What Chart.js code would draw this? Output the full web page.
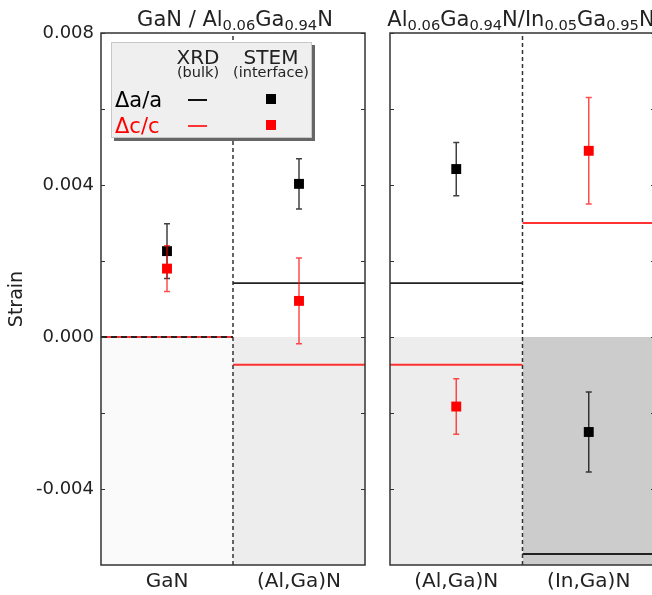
<!DOCTYPE html>
<html lang="en">
<head>
  <meta charset="UTF-8">
  <title>Strain</title>
  <script src="https://cdn.jsdelivr.net/npm/chart.js"></script>
  <style>
    body { margin: 0; background: #fff; width: 652px; height: 595px; overflow: hidden; position: relative; font-family: 'DejaVu Sans', sans-serif; color: #222; }
    canvas { position: absolute; top: 0; }
    #left { left: 0; }
    #right { left: 372px; }
    .ttl { position: absolute; top: 7px; width: 340px; text-align: center; font-size: 21px; line-height: 24px; white-space: nowrap; }
    .ttl sub { font-size: 14.7px; vertical-align: -4px; line-height: 0; }
    .legend { position: absolute; left: 111px; top: 42px; width: 201px; height: 96px; box-sizing: border-box;
              background: #efefef; border: 1px solid #c8c8c8; box-shadow: 3px 3px 0 #666; }
    .legend div, .legend span { position: absolute; white-space: nowrap; }
    .hd { font-size: 20px; line-height: 20px; text-align: center; width: 90px; }
    .sm { font-size: 14.5px; line-height: 15px; text-align: center; width: 90px; }
    .lbl { font-size: 21px; line-height: 24px; left: 3px; }
    .ln { height: 1.5px; width: 19px; left: 76px; }
    .sq { width: 10px; height: 10px; left: 154px; }
  </style>
</head>
<body>
  <canvas id="left" width="372" height="595"></canvas>
  <canvas id="right" width="290" height="595"></canvas>

  <div class="ttl" style="left:65px">GaN / Al<sub>0.06</sub>Ga<sub>0.94</sub>N</div>
  <div class="ttl" style="left:351px">Al<sub>0.06</sub>Ga<sub>0.94</sub>N/In<sub>0.05</sub>Ga<sub>0.95</sub>N</div>

  <div class="legend">
    <div class="hd" style="left:41px;top:4px">XRD</div>
    <div class="sm" style="left:41px;top:22px">(bulk)</div>
    <div class="hd" style="left:114px;top:4px">STEM</div>
    <div class="sm" style="left:114px;top:22px">(interface)</div>
    <div class="lbl" style="top:45px;color:#000">Δa/a</div>
    <span class="ln" style="top:56px;background:#111"></span>
    <span class="sq" style="top:51px;background:#000"></span>
    <div class="lbl" style="top:71px;color:#f00">Δc/c</div>
    <span class="ln" style="top:82px;background:#f33"></span>
    <span class="sq" style="top:77px;background:#f00"></span>
  </div>

  <script>
    // data (strain)
    const leftCats = ['GaN', '(Al,Ga)N'];
    const rightCats = ['(Al,Ga)N', '(In,Ga)N'];

    const stemA_left = [0.00226, 0.00403];
    const stemA_leftErr = [0.00072, 0.00066];
    const stemC_left = [0.00180, 0.00095];
    const stemC_leftErr = [0.00060, 0.00113];
    const xrdA_left = [0, 0.00142];
    const xrdC_left = [0, -0.00073];

    const stemA_right = [0.00442, -0.00250];
    const stemA_rightErr = [0.00070, 0.00105];
    const stemC_right = [-0.00183, 0.00490];
    const stemC_rightErr = [0.00073, 0.00140];
    const xrdA_right = [0.00142, -0.00571];
    const xrdC_right = [-0.00073, 0.00300];

    const yMin = -0.006, yMax = 0.008;
    const yMajor = [-0.004, 0, 0.004, 0.008];
    const yMajorLabels = ['-0.004', '0.000', '0.004', '0.008'];
    const yMinor = [-0.002, 0.002, 0.006];
    const shadeBase = 0;

    const shadeLeft = ['#fafafa', '#ededed'];
    const shadeRight = ['#ededed', '#cccccc'];

    Chart.defaults.font.family = "'DejaVu Sans', sans-serif";
    Chart.defaults.color = '#222';

    // error bars under each STEM square, frame + inward ticks on top
    const decor = {
      id: 'decor',
      beforeDatasetDraw(chart, args) {
        const ds = chart.data.datasets[args.index];
        if (!ds.errors) return;
        const x = chart.scales.x, y = chart.scales.y, c = chart.ctx;
        c.save();
        c.strokeStyle = ds.errColor;
        c.lineWidth = 1.5;
        ds.data.forEach((p, i) => {
          const px = x.getPixelForValue(p.x);
          const t = y.getPixelForValue(p.y + ds.errors[i]);
          const b = y.getPixelForValue(p.y - ds.errors[i]);
          c.beginPath();
          c.moveTo(px, t); c.lineTo(px, b);
          c.moveTo(px - 3, t); c.lineTo(px + 3, t);
          c.moveTo(px - 3, b); c.lineTo(px + 3, b);
          c.stroke();
        });
        c.restore();
      },
      afterDraw(chart) {
        const a = chart.chartArea, y = chart.scales.y, c = chart.ctx;
        c.save();
        c.strokeStyle = '#333';
        c.lineWidth = 1.5;
        c.strokeRect(a.left, a.top, a.right - a.left, a.bottom - a.top);
        c.beginPath();
        yMajor.concat(yMinor).forEach(v => {
          const py = Math.round(y.getPixelForValue(v)) + 0.5;
          c.moveTo(a.left, py); c.lineTo(a.left + 4, py);
          c.moveTo(a.right, py); c.lineTo(a.right - 4, py);
        });
        c.lineWidth = 1;
        c.stroke();
        c.restore();
      }
    };

    function datasets(stemA, stemAErr, stemC, stemCErr, xrdA, xrdC, shades, dashFirstA) {
      const ds = [];
      shades.forEach((col, i) => ds.push({
        type: 'line', data: [{x: i, y: shadeBase}, {x: i + 1, y: shadeBase}],
        fill: 'start', backgroundColor: col, borderWidth: 0, pointRadius: 0, order: 10
      }));
      ds.push({
        type: 'line', data: [{x: 1, y: yMin}, {x: 1, y: yMax}],
        borderColor: '#333', borderWidth: 1.5, borderDash: [4, 3], pointRadius: 0, order: 9
      });
      xrdC.forEach((v, i) => ds.push({
        type: 'line', data: [{x: i, y: v}, {x: i + 1, y: v}],
        borderColor: 'rgba(255,0,0,0.8)', borderWidth: 1.8, pointRadius: 0, order: 8
      }));
      xrdA.forEach((v, i) => ds.push({
        type: 'line', data: [{x: i, y: v}, {x: i + 1, y: v}],
        borderColor: '#222', borderWidth: 1.8, pointRadius: 0, order: 7,
        borderDash: (dashFirstA && i === 0) ? [6, 4] : []
      }));
      ds.push({
        type: 'scatter', data: stemA.map((v, i) => ({x: i + 0.5, y: v})),
        errors: stemAErr, errColor: 'rgba(0,0,0,0.75)',
        pointStyle: 'rect', pointRadius: 7, backgroundColor: '#000', borderColor: '#000', borderWidth: 0, order: 2
      });
      ds.push({
        type: 'scatter', data: stemC.map((v, i) => ({x: i + 0.5, y: v})),
        errors: stemCErr, errColor: 'rgba(255,0,0,0.7)',
        pointStyle: 'rect', pointRadius: 7, backgroundColor: '#f00', borderColor: '#f00', borderWidth: 0, order: 1
      });
      return ds;
    }

    function xScale(cats) {
      return {
        type: 'linear', min: 0, max: 2,
        afterBuildTicks: s => { s.ticks = cats.map((_, i) => ({value: i + 0.5})); },
        ticks: { callback: (v, i) => cats[i], font: {size: 20}, color: '#222', padding: 5, maxRotation: 0, autoSkip: false },
        grid: { display: false, drawTicks: false },
        border: { display: false },
        afterFit: s => { s.height = 30; }
      };
    }

    const common = {
      responsive: false, animation: false,
      plugins: { legend: { display: false }, tooltip: { enabled: false } }
    };

    new Chart(document.getElementById('left'), {
      type: 'scatter',
      data: { datasets: datasets(stemA_left, stemA_leftErr, stemC_left, stemC_leftErr, xrdA_left, xrdC_left, shadeLeft, true) },
      options: Object.assign({}, common, {
        layout: { padding: { top: 33, right: 4, bottom: 0, left: 0 } },
        scales: {
          x: xScale(leftCats),
          y: {
            min: yMin, max: yMax,
            afterBuildTicks: s => { s.ticks = yMajor.map(v => ({value: v})); },
            ticks: { callback: (v, i) => yMajorLabels[i], font: {size: 18}, color: '#222', padding: 7 },
            grid: { display: false, drawTicks: false },
            border: { display: false },
            title: { display: true, text: 'Strain', font: {size: 19}, color: '#222', padding: {top: 6, bottom: 0} },
            afterFit: s => { s.width = 101; }
          }
        }
      }),
      plugins: [decor]
    });

    new Chart(document.getElementById('right'), {
      type: 'scatter',
      data: { datasets: datasets(stemA_right, stemA_rightErr, stemC_right, stemC_rightErr, xrdA_right, xrdC_right, shadeRight, false) },
      options: Object.assign({}, common, {
        layout: { padding: { top: 33, right: 5, bottom: 0, left: 18 } },
        scales: {
          x: xScale(rightCats),
          y: { min: yMin, max: yMax, display: false }
        }
      }),
      plugins: [decor]
    });
  </script>
</body>
</html>
